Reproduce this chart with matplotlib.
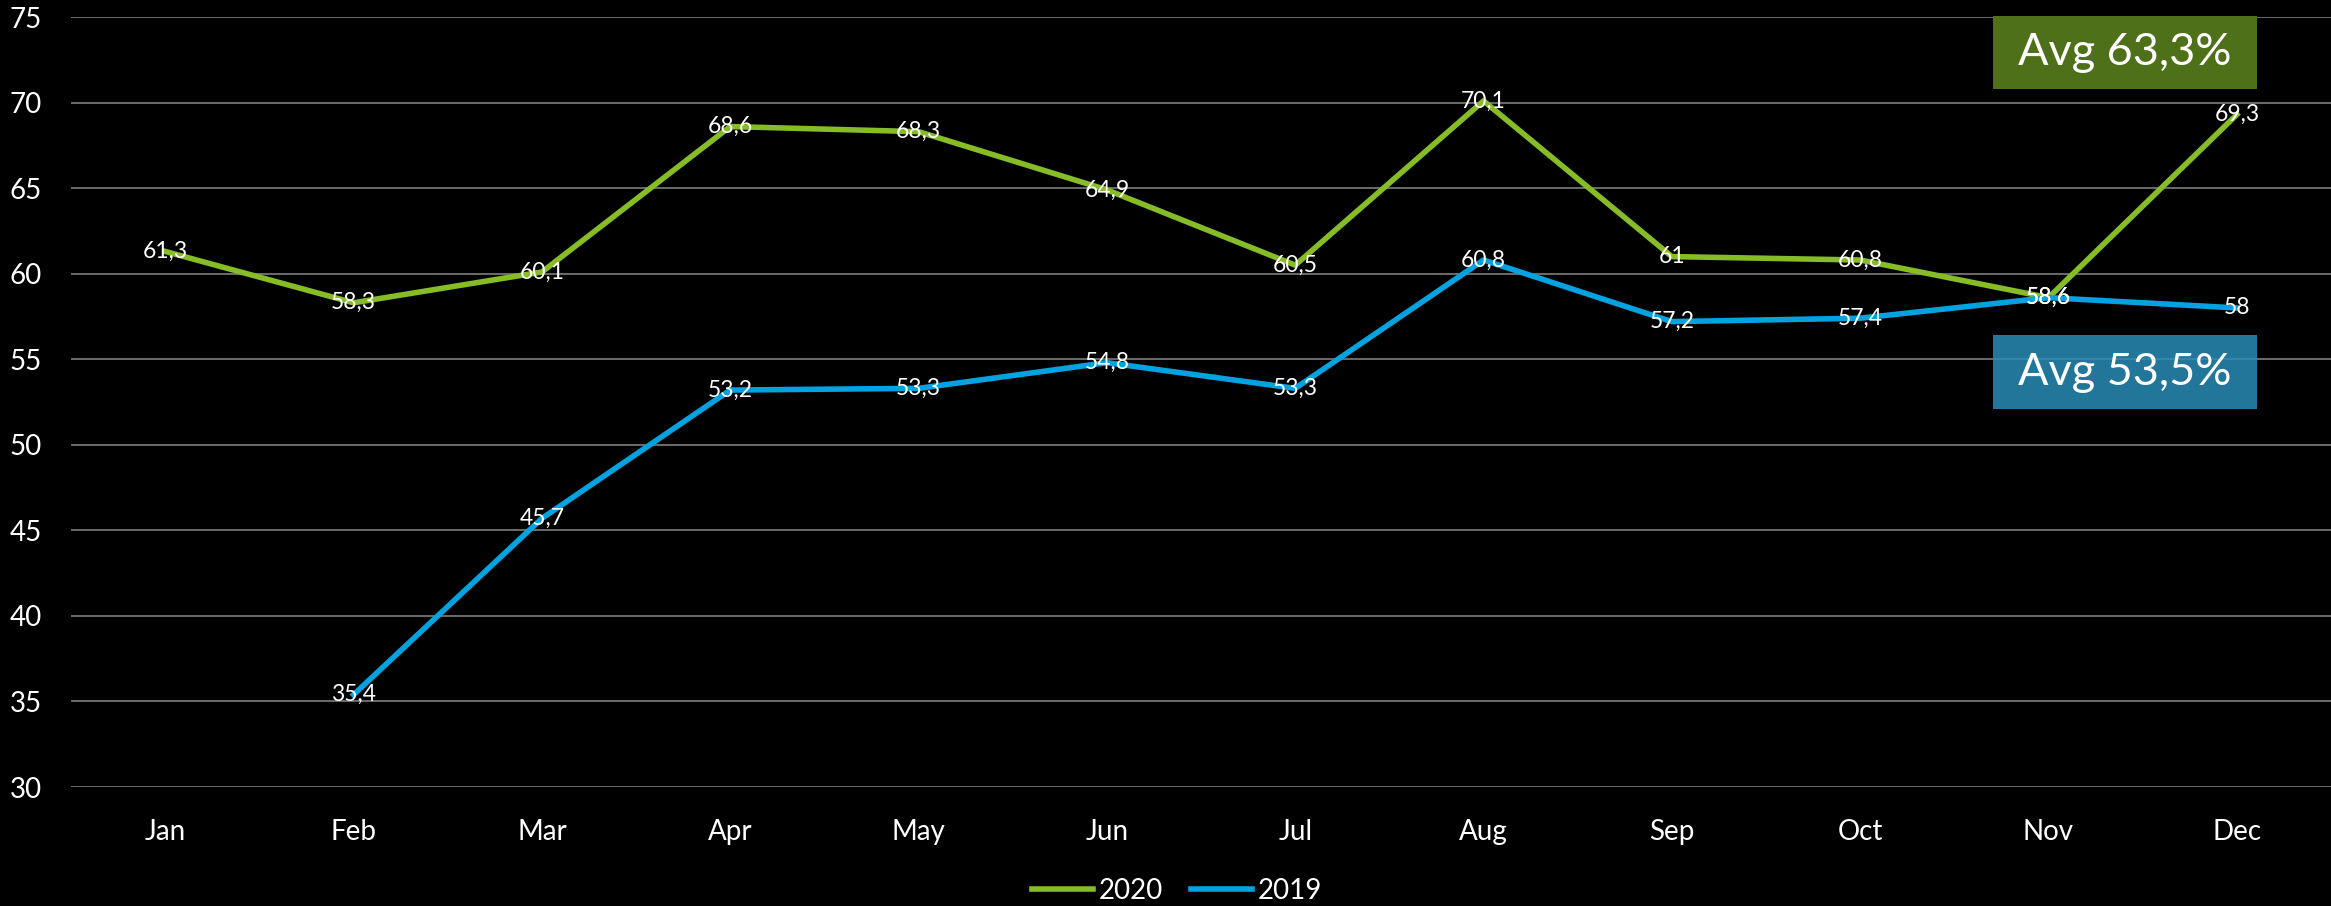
import matplotlib.pyplot as plt
from matplotlib.patches import Rectangle
import numpy as np

plt.rcParams['font.family'] = ['Lato', 'DejaVu Sans']

# Data
months = ["Jan", "Feb", "Mar", "Apr", "May", "Jun",
          "Jul", "Aug", "Sep", "Oct", "Nov", "Dec"]
values_2020 = [61.3, 58.3, 60.1, 68.6, 68.3, 64.9, 60.5, 70.1, 61, 60.8, 58.6, 69.3]
values_2019 = [np.nan, 35.4, 45.7, 53.2, 53.3, 54.8, 53.3, 60.8, 57.2, 57.4, 58.6, 58]
avg_2020 = "Avg 63,3%"
avg_2019 = "Avg 53,5%"
y_ticks = [30, 35, 40, 45, 50, 55, 60, 65, 70, 75]

green = "#86bc25"
blue = "#00a3e0"

fig = plt.figure(figsize=(23.31, 9.06), dpi=100, facecolor="black")
ax = fig.add_axes([0.0305, 0.1313, 0.9695, 0.8499])
ax.set_facecolor("black")

x = np.arange(len(months))
ax.plot(x, values_2020, color=green, linewidth=4, label="2020", zorder=3)
ax.plot(x, values_2019, color=blue, linewidth=4, label="2019", zorder=3)

# Data labels, centred on the points
for xi, v in zip(x, values_2020):
    ax.text(xi, v, f"{v:g}".replace(".", ","), color="white", fontsize=16.5,
            ha="center", va="center", zorder=5)
for xi, v in zip(x, values_2019):
    if not np.isnan(v):
        ax.text(xi, v, f"{v:g}".replace(".", ","), color="white", fontsize=16.5,
                ha="center", va="center", zorder=5)

# Axes
ax.set_xlim(-0.5, len(months) - 0.5)
ax.set_ylim(30, 75)
ax.set_yticks(y_ticks)
ax.set_xticks(x)
ax.set_xticklabels(months)
ax.tick_params(colors="white", labelsize=20, length=0)
ax.tick_params(axis="y", pad=21)
ax.tick_params(axis="x", pad=23)
ax.grid(axis="y", color="#6b6b6b", linewidth=1.4, zorder=0)
for s in ax.spines.values():
    s.set_visible(False)

# Average boxes
ax.add_patch(Rectangle((9.706, 70.79), 1.401, 4.27, facecolor="#4e7018",
                       edgecolor="none", zorder=4, clip_on=False))
ax.text(10.406, 72.93, avg_2020, color="white", fontsize=32.5,
        ha="center", va="center", zorder=6)
ax.add_patch(Rectangle((9.706, 52.09), 1.401, 4.33, facecolor="#298cb6",
                       edgecolor="none", alpha=0.85, zorder=4, clip_on=False))
ax.text(10.406, 54.25, avg_2019, color="white", fontsize=32.5,
        ha="center", va="center", zorder=6)

# Legend
fig.legend(loc="center", bbox_to_anchor=(0.505, 0.017), ncol=2, frameon=False,
           fontsize=20, labelcolor="white", handlelength=2.2,
           handletextpad=0.2, columnspacing=1.0)

fig.savefig("out.png", dpi=100, facecolor="black")
